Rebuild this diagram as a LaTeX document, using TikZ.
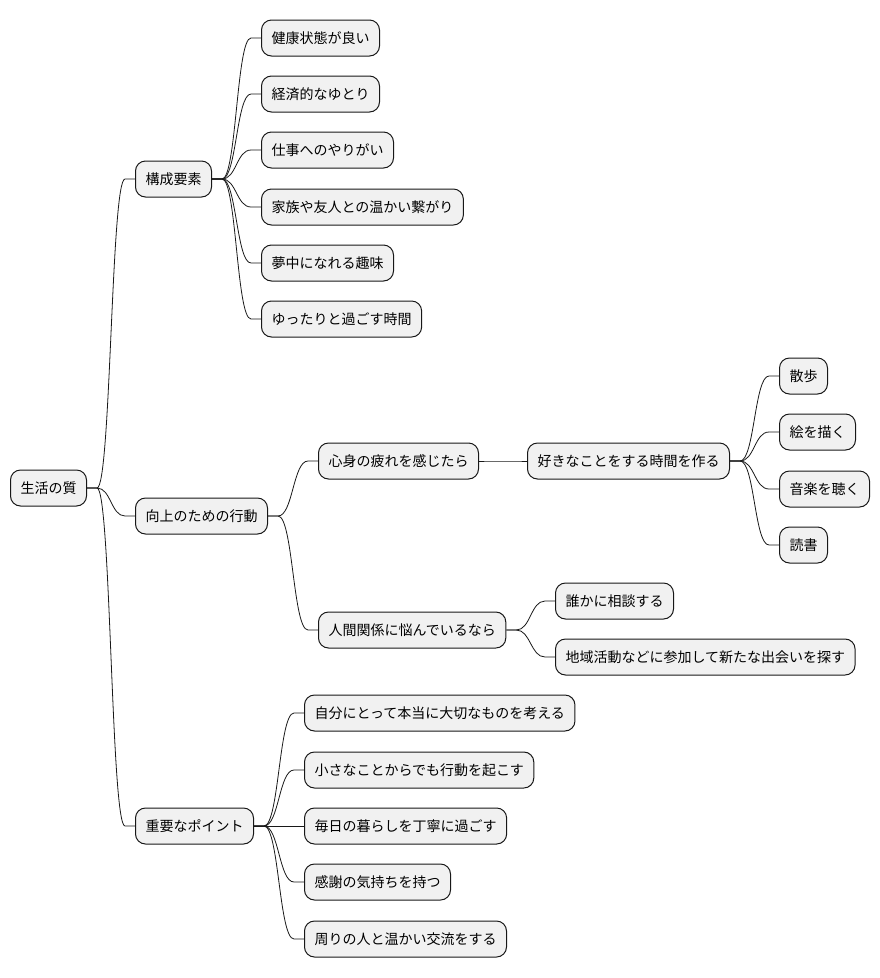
\documentclass[tikz,border=0pt]{standalone}
\usepackage{fontspec}
\setmainfont{Noto Sans CJK JP}
\usetikzlibrary{calc}
\definecolor{boxC}{HTML}{F1F1F1}
\definecolor{lineC}{HTML}{181818}
\tikzset{
  box/.style={draw=lineC, fill=boxC, rounded corners=10pt, line width=1pt,
    minimum height=36pt, inner xsep=10pt, inner ysep=0pt, anchor=west,
    text height=12pt, text depth=2pt, font=\fontsize{14}{16}\selectfont},
  conn/.style={draw=lineC, line width=0.8pt}
}
\newcommand\lnk[2]{%
  \path ([xshift=10pt]#1.east) coordinate (ls) ([xshift=-10pt]#2.west) coordinate (le);
  \path ($(ls)!0.5!(le)$) coordinate (lm);
  \draw[conn] (#1.east) -- (ls) .. controls (lm |- ls) and (lm |- le) .. (le) -- (#2.west);}
\begin{document}
\begin{tikzpicture}[x=1pt,y=-1pt]
\useasboundingbox (0,0) rectangle (880,978);
\node[box] (root) at (10,488) {生活の質};
\node[box] (k) at (135,179) {構成要素};
\node[box] (k1) at (261,38) {健康状態が良い};
\node[box] (k2) at (261,94) {経済的なゆとり};
\node[box] (k3) at (261,150) {仕事へのやりがい};
\node[box] (k4) at (261,207) {家族や友人との温かい繋がり};
\node[box] (k5) at (261,263) {夢中になれる趣味};
\node[box] (k6) at (261,319) {ゆったりと過ごす時間};
\node[box] (a) at (135,516) {向上のための行動};
\node[box] (a1) at (318,461) {心身の疲れを感じたら};
\node[box] (a11) at (527,461) {好きなことをする時間を作る};
\node[box] (h1) at (779,376) {散歩};
\node[box] (h2) at (779,432) {絵を描く};
\node[box] (h3) at (779,489) {音楽を聴く};
\node[box] (h4) at (779,545) {読書};
\node[box] (a2) at (318,630) {人間関係に悩んでいるなら};
\node[box] (r1) at (555,601) {誰かに相談する};
\node[box] (r2) at (555,657) {地域活動などに参加して新たな出会いを探す};
\node[box] (p) at (135,826) {重要なポイント};
\node[box] (p1) at (304,713) {自分にとって本当に大切なものを考える};
\node[box] (p2) at (304,770) {小さなことからでも行動を起こす};
\node[box] (p3) at (304,826) {毎日の暮らしを丁寧に過ごす};
\node[box] (p4) at (304,882) {感謝の気持ちを持つ};
\node[box] (p5) at (304,939) {周りの人と温かい交流をする};
\lnk{root}{k}\lnk{root}{a}\lnk{root}{p}
\lnk{k}{k1}\lnk{k}{k2}\lnk{k}{k3}\lnk{k}{k4}\lnk{k}{k5}\lnk{k}{k6}
\lnk{a}{a1}\lnk{a}{a2}
\lnk{a1}{a11}
\lnk{a11}{h1}\lnk{a11}{h2}\lnk{a11}{h3}\lnk{a11}{h4}
\lnk{a2}{r1}\lnk{a2}{r2}
\lnk{p}{p1}\lnk{p}{p2}\lnk{p}{p3}\lnk{p}{p4}\lnk{p}{p5}
\end{tikzpicture}
\end{document}
